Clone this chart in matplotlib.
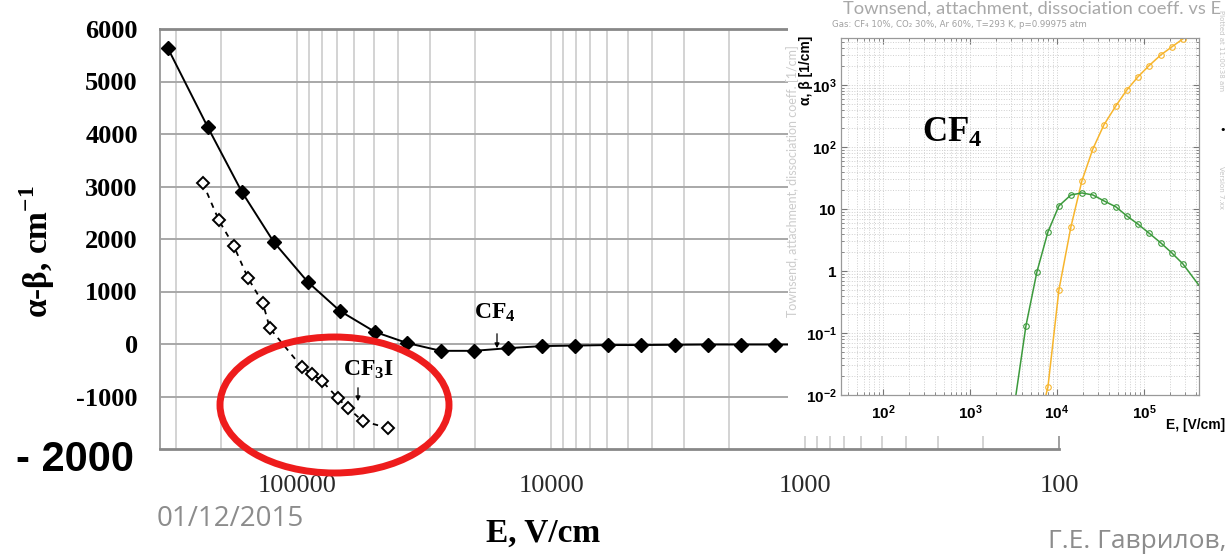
import matplotlib
matplotlib.use('Agg')
import matplotlib.pyplot as plt
from matplotlib.patches import Ellipse, Rectangle
from matplotlib.ticker import LogLocator, NullFormatter

# left chart: alpha - beta against E, log axis running backwards
e_cf4 = [323600, 225000, 165300, 123600, 90800, 67900, 49400, 37000, 27200, 20100,
         14800, 10900, 8070, 5980, 4430, 3260, 2420, 1790, 1315, 975]
ab_cf4 = [5640, 4130, 2900, 1940, 1180, 630, 230, 20, -130, -130,
          -80, -40, -30, -20, -20, -15, -10, -10, -10, -10]

e_cf3i = [235400, 203700, 177800, 156400, 136500, 128200, 95900, 87600, 80000,
          69200, 63200, 55100, 43900]
ab_cf3i = [3070, 2360, 1870, 1260, 780, 300, -440, -570, -700,
           -1030, -1220, -1470, -1600]

ab_ticks = [-1000, 0, 1000, 2000, 3000, 4000, 5000, 6000]
e_ticks = [100000, 10000, 1000, 100]
e_tick_labels = ['100000', '10000', '1000', '100']

# right chart: Townsend (alpha) and attachment coefficients for the CF4 mix
e_alpha = [7490, 7890, 10550, 14490, 19380, 25920, 34680, 47640, 63770, 85330,
           114000, 156600, 209700, 280800]
alpha = [0.01, 0.0135, 0.494, 5.13, 28.3, 92.9, 226, 459, 830, 1345,
         2025, 3045, 4100, 5520]

e_eta = [3380, 4406, 5890, 7890, 10550, 14490, 19380, 25920, 34680, 47640,
         63770, 85330, 114000, 156600, 209700, 280800, 428000]
eta = [0.01, 0.130, 0.964, 4.26, 11.2, 16.8, 18.1, 16.8, 13.5, 10.8,
       7.7, 5.7, 4.1, 2.83, 1.95, 1.30, 0.59]

log_ticks = [1e2, 1e3, 1e4, 1e5]
log_tick_labels = [r'$10^{2}$', r'$10^{3}$', r'$10^{4}$', r'$10^{5}$']
coef_ticks = [1e-2, 1e-1, 1, 10, 1e2, 1e3]
coef_tick_labels = [r'$10^{-2}$', r'$10^{-1}$', r'$1$', r'$10$', r'$10^{2}$', r'$10^{3}$']

plt.rcParams['axes.unicode_minus'] = False
plt.rcParams['mathtext.fontset'] = 'custom'
plt.rcParams['mathtext.rm'] = 'Liberation Sans:bold'
plt.rcParams['mathtext.it'] = 'Liberation Sans:bold:italic'
plt.rcParams['mathtext.bf'] = 'Liberation Serif:bold'

W, H = 1229, 555
fig = plt.figure(figsize=(W / 100, H / 100), dpi=100)

# ---- left chart
ax1 = fig.add_axes([160 / W, 1 - 449 / H, 899 / W, 420 / H], zorder=0)
ax1.set_xscale('log')
ax1.set_xlim(347000, 100)
ax1.set_ylim(-2000, 6000)
ax1.set_yticks(ab_ticks)
ax1.set_xticks(e_ticks, labels=e_tick_labels)
ax1.xaxis.set_minor_locator(LogLocator(base=10, subs=range(2, 10), numticks=30))
ax1.xaxis.set_minor_formatter(NullFormatter())
ax1.grid(axis='x', which='both', color='#c8c8c8', lw=1.1)
ax1.grid(axis='y', which='major', color='#a8a8a8', lw=1.4)
ax1.tick_params(which='both', length=0)
ax1.tick_params(axis='y', pad=16)
ax1.tick_params(axis='x', pad=19)
for lab in ax1.get_yticklabels():
    lab.set_fontfamily('Liberation Serif')
    lab.set_fontweight('bold')
    lab.set_fontsize(19)
for lab in ax1.get_xticklabels():
    lab.set_fontfamily('Liberation Serif')
    lab.set_fontsize(19)
    lab.set_color('#2a2a2a')
for side in ['top', 'bottom']:
    ax1.spines[side].set_color('#888888')
    ax1.spines[side].set_linewidth(2)
for side in ['left', 'right']:
    ax1.spines[side].set_color('#a0a0a0')
    ax1.spines[side].set_linewidth(1.4)

ax1.plot(e_cf4, ab_cf4, color='black', lw=1.4, marker='D', ms=7, mfc='black', mec='black')
ax1.plot(e_cf3i, ab_cf3i, color='black', lw=1.3, ls=(0, (3, 3)), marker='D', ms=6.5,
         mfc='white', mec='black', mew=1.4)

# ---- overlay in pixel coordinates for the slide decorations
ax0 = fig.add_axes([0, 0, 1, 1], zorder=1)
ax0.set_xlim(0, W)
ax0.set_ylim(H, 0)
ax0.axis('off')
ax0.patch.set_alpha(0)

ax0.add_patch(Rectangle((788, 0), W - 788, 436, fc='white', ec='none'))
ax0.add_patch(Ellipse((334.5, 405), 229, 136, fill=False, ec='#ee1c1c', lw=5))

ax0.text(36, 252, r'α-β, cm$^{\mathbf{-1}}$', rotation=90, ha='center', va='center',
         fontsize=24, family='Liberation Serif', weight='bold')
ax0.text(543, 533, 'E, V/cm', ha='center', va='center', fontsize=24,
         family='Liberation Serif', weight='bold')
ax0.text(75, 460, '- 2000', ha='center', va='center', fontsize=30,
         family='Liberation Sans', weight='bold')

ax0.text(495, 312, r'$\mathbf{CF_4}$', ha='center', va='center', fontsize=17)
ax0.annotate('', xy=(497, 351), xytext=(497, 331),
             arrowprops=dict(arrowstyle='-|>', color='black', lw=0.9, mutation_scale=7))
ax0.text(368, 369, r'$\mathbf{CF_3I}$', ha='center', va='center', fontsize=17)
ax0.annotate('', xy=(358, 404), xytext=(358, 385),
             arrowprops=dict(arrowstyle='-|>', color='black', lw=0.9, mutation_scale=7))

ax0.text(157, 519, '01/12/2015', ha='left', va='center', fontsize=20,
         family='Open Sans', color='#8c8c8c')
ax0.text(1226, 542, 'Г.Е. Гаврилов,', ha='right', va='center', fontsize=19,
         family='Open Sans', color='#8c8c8c')

# inset texts
ax0.text(843, 14, 'Townsend, attachment, dissociation coeff. vs E', ha='left', va='baseline',
         fontsize=13.2, family='Lato', color='#a8a8a8')
ax0.text(832, 27, 'Gas: CF₄ 10%, CO₂ 30%, Ar 60%, T=293 K, p=0.99975 atm', ha='left',
         va='baseline', fontsize=6.2, family='DejaVu Sans', color='#a0a0a0')
ax0.text(793, 181, 'Townsend, attachment, dissociation coeff. [1/cm]', rotation=90,
         ha='center', va='center', fontsize=9, family='Lato', color='#cccccc')
ax0.text(806, 70, 'α, β [1/cm]', rotation=90, ha='center', va='center', fontsize=10,
         family='Liberation Sans', weight='bold')
ax0.text(1196, 425, 'E, [V/cm]', ha='center', va='center', fontsize=10,
         family='Liberation Sans', weight='bold')
ax0.text(1221, 50, 'Plotted at 11:00:38 am', rotation=-90, ha='center', va='center',
         fontsize=5, color='#c4c4c4')
ax0.text(1221, 188, 'Version 7.xx', rotation=-90, ha='center', va='center',
         fontsize=5, color='#c4c4c4')
ax0.text(1223, 130, '•', ha='center', va='center', fontsize=8, color='black')

# ---- right chart
ax2 = fig.add_axes([841 / W, 1 - 395 / H, 358 / W, 357 / H], zorder=2)
ax2.set_xscale('log')
ax2.set_yscale('log')
ax2.set_xlim(33, 4.3e5)
ax2.set_ylim(0.01, 5700)
ax2.set_xticks(log_ticks, labels=log_tick_labels)
ax2.set_yticks(coef_ticks, labels=coef_tick_labels)
for axis in [ax2.xaxis, ax2.yaxis]:
    axis.set_minor_locator(LogLocator(base=10, subs=range(2, 10), numticks=30))
    axis.set_minor_formatter(NullFormatter())
ax2.grid(which='both', color='#cfcfcf', ls=':', lw=0.7)
ax2.tick_params(which='both', direction='in', top=True, right=True, color='#777777',
                labelsize=11)
ax2.tick_params(which='major', length=4)
ax2.tick_params(which='minor', length=2)
ax2.tick_params(axis='x', pad=6)
ax2.tick_params(axis='y', pad=3)
for sp in ax2.spines.values():
    sp.set_color('#999999')
    sp.set_linewidth(0.9)

ax2.plot(e_alpha, alpha, color='#f7b52c', lw=1.1, marker='o', ms=4, mfc='none',
         mew=0.8, markevery=slice(1, None))
ax2.plot(e_eta, eta, color='#3c9a3c', lw=1.1, marker='o', ms=4, mfc='none',
         mew=0.8, markevery=slice(1, -1))
ax2.text(952, 132, r'$\mathbf{CF_4}$', ha='center', va='center', fontsize=25,
         transform=ax0.transData)

fig.savefig('out.png', dpi=100)
